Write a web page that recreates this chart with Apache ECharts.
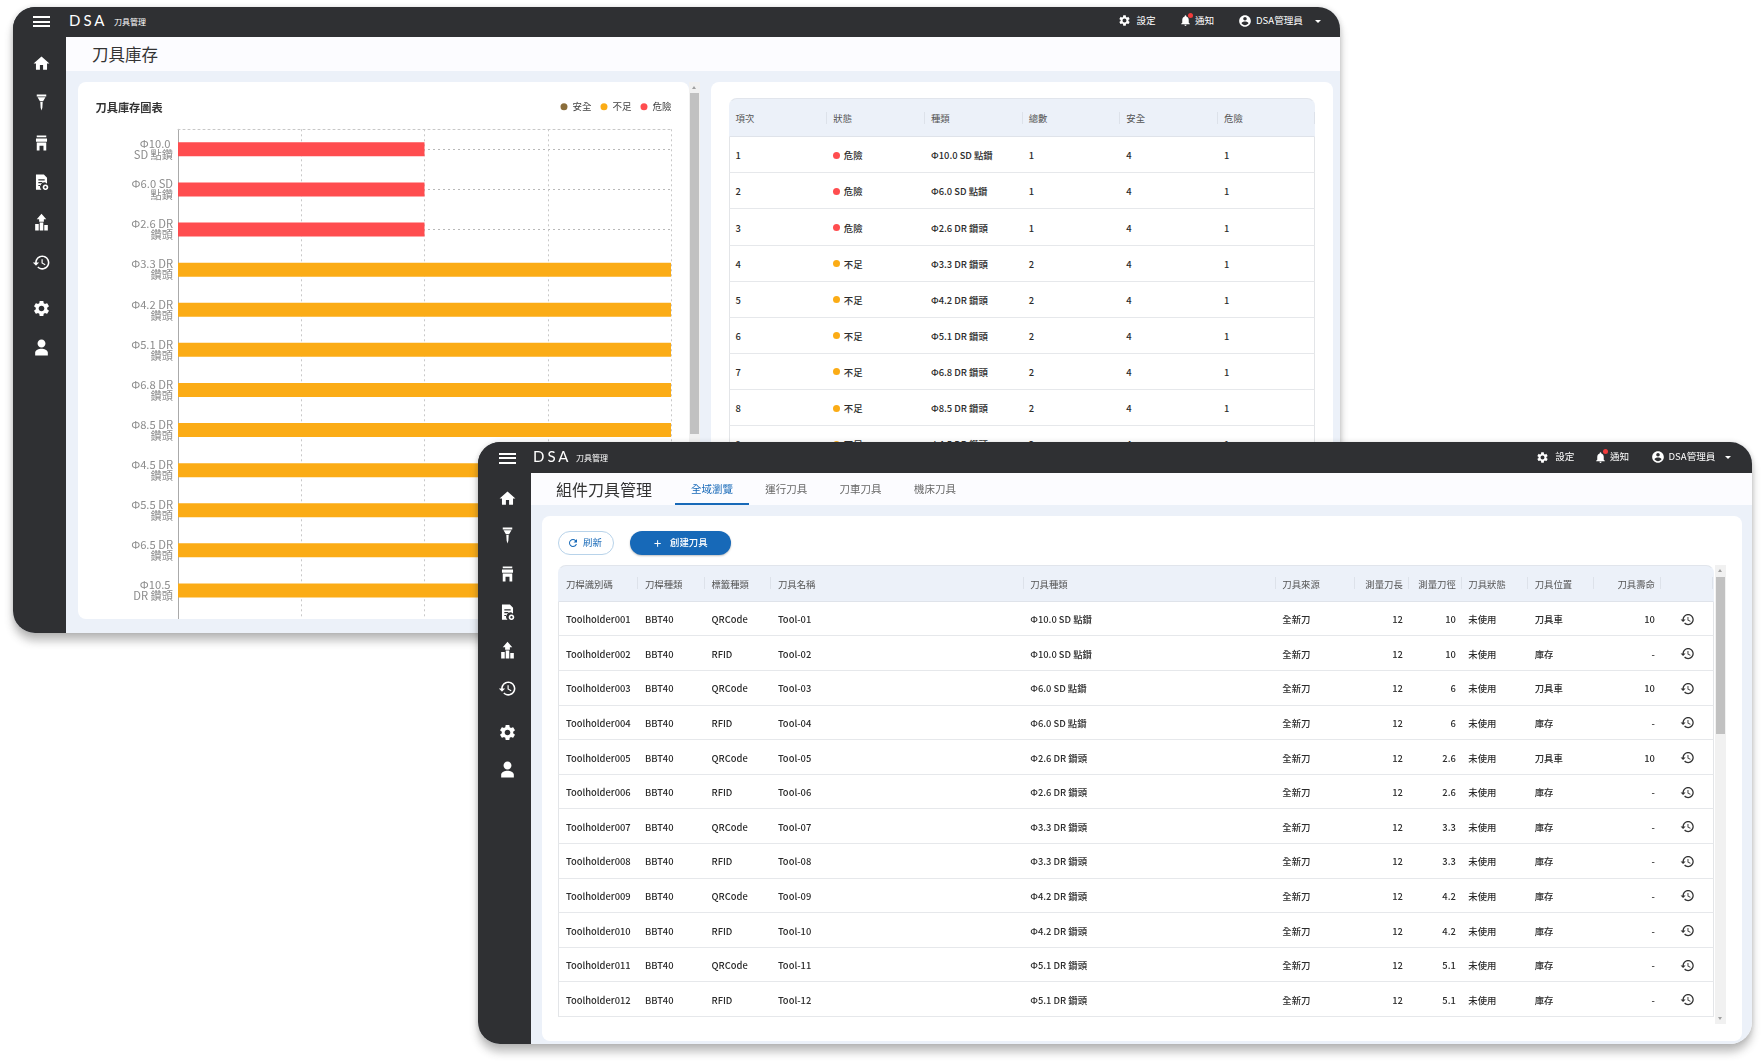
<!DOCTYPE html>
<html>
<head>
<meta charset="utf-8">
<script src="https://cdn.jsdelivr.net/npm/echarts@6/dist/echarts.min.js"></script>
<style>
html,body{margin:0;padding:0;background:#fff;width:1764px;height:1062px;overflow:hidden;font-family:"Noto Sans CJK TC","Noto Sans",sans-serif;color:#333}
div,span{box-sizing:border-box}
.win{position:absolute;background:#ecf1f9;border-radius:22px;overflow:hidden}
.wrap{position:absolute;border-radius:22px;box-shadow:0 8px 9px rgba(60,60,60,.32),0 0 5px rgba(60,60,60,.18)}
#backWrap{left:13px;top:7px;width:1327px;height:626px}
#frontWrap{left:478px;top:442px;width:1274px;height:602px}
.nav{position:absolute;left:0;top:0;right:0;background:#2f3033;color:#fff}
.side{position:absolute;left:0;top:0;bottom:0;width:53px;background:#2f3033}
.head{position:absolute;left:53px;right:0;background:#fcfcff}
.abs{position:absolute;white-space:nowrap;line-height:1}
.ham{position:absolute;border-top:2px solid #fff;border-bottom:2px solid #fff}
.ham:after{content:"";position:absolute;left:0;right:0;top:50%;margin-top:-1px;height:2px;background:#fff}
.ico{position:absolute;fill:#fff}
.card{position:absolute;background:#fff;border-radius:8px;overflow:hidden}
.sb{position:absolute;background:#f1f1f1}
.sb i{position:absolute;left:1px;right:1px;background:#c1c1c1}
.sb b{position:absolute;left:3px;width:0;height:0;border-left:2.5px solid transparent;border-right:2.5px solid transparent}
.tbl{position:absolute;font-size:9.4px;color:#2b2b2b;font-weight:500}
.row{display:flex;align-items:center;border-bottom:1px solid #e6e8eb;border-left:1px solid #e3e5e8;border-right:1px solid #e3e5e8}
.hd{background:#ecf1f9;border:1px solid transparent;border-top-color:#e1e5ec;border-bottom-color:#dfe3ea;border-radius:8px 8px 0 0;color:#555;font-weight:400}
.cell{position:relative;height:100%;display:flex;align-items:center;flex:none;white-space:nowrap;padding-top:1px}
.hd .cell:after{content:"";position:absolute;right:0;top:50%;margin-top:-6px;height:12px;width:1px;background:#dde2ea}
.cell.r{justify-content:flex-end}
.dot{display:inline-block;width:7px;height:7px;border-radius:50%;margin-right:3.5px}
.rowIcon{width:15px;height:15px;fill:#333;margin-left:12.5px}
</style>
</head>
<body>
<div class="wrap" id="backWrap"><div class="win" id="backWin" style="width:100%;height:100%"></div></div>
<div class="wrap" id="frontWrap"><div class="win" id="frontWin" style="width:100%;height:100%"></div></div>
<script>
// chart data
var categories = ['Φ10.0 SD 點鑽','Φ6.0 SD 點鑽','Φ2.6 DR 鑽頭','Φ3.3 DR 鑽頭','Φ4.2 DR 鑽頭','Φ5.1 DR 鑽頭','Φ6.8 DR 鑽頭','Φ8.5 DR 鑽頭','Φ4.5 DR 鑽頭','Φ5.5 DR 鑽頭','Φ6.5 DR 鑽頭','Φ10.5 DR 鑽頭'];
var safeValues = [0,0,0,0,0,0,0,0,0,0,0,0];
var lowValues = [0,0,0,2,2,2,2,2,2,2,2,2];
var dangerValues = [1,1,1,0,0,0,0,0,0,0,0,0];
var seriesColors = ['#8a6d3b','#fbac16','#ff4d4f'];

// stock table, only the rows that show above the front window
var stockHeaders = ['項次','狀態','種類','總數','安全','危險'];
var stockStatus = ['危險','危險','危險','不足','不足','不足','不足','不足','不足'];
var stockTotals = [1,1,1,2,2,2,2,2,2];
var stockSafe = [4,4,4,4,4,4,4,4,4];
var stockDanger = [1,1,1,1,1,1,1,1,1];

// tool table
var toolHeaders = ['刀桿識別碼','刀桿種類','標籤種類','刀具名稱','刀具種類','刀具來源','測量刀長','測量刀徑','刀具狀態','刀具位置','刀具壽命',''];
var toolIds = ['Toolholder001','Toolholder002','Toolholder003','Toolholder004','Toolholder005','Toolholder006','Toolholder007','Toolholder008','Toolholder009','Toolholder010','Toolholder011','Toolholder012'];
var toolLabels = ['QRCode','RFID','QRCode','RFID','QRCode','RFID','QRCode','RFID','QRCode','RFID','QRCode','RFID'];
var toolNames = ['Tool-01','Tool-02','Tool-03','Tool-04','Tool-05','Tool-06','Tool-07','Tool-08','Tool-09','Tool-10','Tool-11','Tool-12'];
var toolKinds = ['Φ10.0 SD 點鑽','Φ10.0 SD 點鑽','Φ6.0 SD 點鑽','Φ6.0 SD 點鑽','Φ2.6 DR 鑽頭','Φ2.6 DR 鑽頭','Φ3.3 DR 鑽頭','Φ3.3 DR 鑽頭','Φ4.2 DR 鑽頭','Φ4.2 DR 鑽頭','Φ5.1 DR 鑽頭','Φ5.1 DR 鑽頭'];
var toolDiameters = [10,10,6,6,2.6,2.6,3.3,3.3,4.2,4.2,5.1,5.1];
var toolPlaces = ['刀具車','庫存','刀具車','庫存','刀具車','庫存','庫存','庫存','庫存','庫存','庫存','庫存'];
var toolLife = ['10','-','10','-','10','-','-','-','-','-','-','-'];
var tabNames = ['全域瀏覽','運行刀具','刀車刀具','機床刀具'];

var icons = {
  home:'M10 20v-6h4v6h5v-8h3L12 3 2 12h3v8z',
  mill:'M6 2h12v2.5H6zM7 5.5h10l-3 5h-4zM10.5 11.5h3l-.4 7-1.1 3.5-1.1-3.5z',
  store:'M6 3h12v2.5H6zM5 7h14v4H5zM6 12h12v10h-3.5v-6h-5v6H6z',
  doc:'M5 2h10l4 4v7.5a5 5 0 0 0-7 7.5H5zM8 8v1.5h8V8zM8 11.5V13h5v-1.5zM8 15v1.5h3V15zM17 14.5a3.5 3.5 0 1 0 .01 0zM17 16.5a1.5 1.5 0 1 1-.01 0z',
  chart:'M12 1l6 7h-3v3H9V8H6zM4 14h4.500v8H4zM9.750 12h4.500v10h-4.500zM15.500 15H20v7h-4.500z',
  history:'M13 3c-4.97 0-9 4.03-9 9H1l3.89 3.89.07.14L9 12H6c0-3.87 3.13-7 7-7s7 3.13 7 7-3.13 7-7 7c-1.93 0-3.68-.79-4.94-2.06l-1.42 1.42C8.27 19.99 10.51 21 13 21c4.97 0 9-4.03 9-9s-4.03-9-9-9zm-1 5v5l4.28 2.54.72-1.21-3.5-2.08V8H12z',
  gear:'M19.14 12.94c.04-.3.06-.61.06-.94 0-.32-.02-.64-.07-.94l2.03-1.58c.18-.14.23-.41.12-.61l-1.92-3.32c-.12-.22-.37-.29-.59-.22l-2.39.96c-.5-.38-1.03-.7-1.62-.94l-.36-2.54c-.04-.24-.24-.41-.48-.41h-3.84c-.24 0-.43.17-.47.41l-.36 2.54c-.59.24-1.13.57-1.62.94l-2.39-.96c-.22-.08-.47 0-.59.22L2.74 8.87c-.12.21-.08.47.12.61l2.03 1.58c-.05.3-.09.63-.09.94s.02.64.07.94l-2.03 1.58c-.18.14-.23.41-.12.61l1.92 3.32c.12.22.37.29.59.22l2.39-.96c.5.38 1.03.7 1.62.94l.36 2.54c.05.24.24.41.48.41h3.84c.24 0 .44-.17.47-.41l.36-2.54c.59-.24 1.13-.56 1.62-.94l2.39.96c.22.08.47 0 .59-.22l1.92-3.32c.12-.22.07-.47-.12-.61l-2.01-1.58zM12 15.6c-1.98 0-3.6-1.62-3.6-3.6s1.62-3.6 3.6-3.6 3.6 1.62 3.6 3.6-1.62 3.6-3.6 3.6z',
  user:'M12 12c2.9 0 5-2.2 5-5s-2.1-5-5-5-5 2.2-5 5 2.1 5 5 5zm0 1.5c-3.3 0-8 1.7-8 4.7V22h16v-3.8c0-3-4.7-4.7-8-4.7z',
  bell:'M12 22c1.1 0 2-.9 2-2h-4c0 1.1.89 2 2 2zm6-6v-5c0-3.07-1.64-5.64-4.5-6.32V4c0-.83-.67-1.5-1.5-1.5s-1.5.67-1.5 1.5v.68C7.63 5.36 6 7.92 6 11v5l-2 2v1h16v-1l-2-2z',
  account:'M12 2C6.48 2 2 6.48 2 12s4.48 10 10 10 10-4.48 10-10S17.52 2 12 2zm0 3c1.66 0 3 1.34 3 3s-1.34 3-3 3-3-1.34-3-3 1.34-3 3-3zm0 14.2c-2.5 0-4.71-1.28-6-3.22.03-1.99 4-3.08 6-3.08 1.99 0 5.97 1.09 6 3.08-1.29 1.94-3.5 3.22-6 3.22z',
  refresh:'M17.65 6.35C16.2 4.9 14.21 4 12 4c-4.42 0-7.99 3.58-7.99 8s3.57 8 7.99 8c3.73 0 6.84-2.55 7.73-6h-2.08c-.82 2.33-3.04 4-5.65 4-3.31 0-6-2.69-6-6s2.69-6 6-6c1.66 0 3.14.69 4.22 1.78L13 11h7V4l-2.35 2.35z'
};
function svg(name,cx,cy,size,color){
  return '<svg class="ico" viewBox="0 0 24 24" style="left:'+(cx-size/2)+'px;top:'+(cy-size/2)+'px;width:'+size+'px;height:'+size+'px'+(color?';fill:'+color:'')+'"><path d="'+icons[name]+'"/></svg>';
}
function txt(s,x,cy,size,color,extra){
  return '<span class="abs" style="left:'+x+'px;top:'+(cy-size/2)+'px;font-size:'+size+'px;color:'+(color||'#333')+';'+(extra||'')+'">'+s+'</span>';
}
function table(x,y,w,headers,widths,aligns,headH,rowH,rows,pad){
  var h='<div class="tbl" style="left:'+x+'px;top:'+y+'px;width:'+w+'px">';
  h+='<div class="row hd" style="height:'+headH+'px">';
  headers.forEach(function(t,i){h+='<div class="cell'+(aligns[i]?' r':'')+'" style="width:'+widths[i]+'px;padding-left:'+pad[0]+'px;padding-right:'+pad[1]+'px">'+t+'</div>'});
  h+='</div>';
  rows.forEach(function(r){
    h+='<div class="row" style="height:'+rowH+'px">';
    r.forEach(function(t,i){h+='<div class="cell'+(aligns[i]?' r':'')+'" style="width:'+widths[i]+'px;padding-left:'+pad[0]+'px;padding-right:'+pad[1]+'px">'+t+'</div>'});
    h+='</div>';
  });
  return h+'</div>';
}
function chrome(o){
  var h='<div class="side"></div><div class="nav" style="height:'+o.navH+'px"></div>';
  h+='<div class="head" style="top:'+o.navH+'px;height:'+o.headH+'px"></div>';
  h+='<div class="ham" style="left:'+o.hamX+'px;top:'+o.hamY+'px;width:17px;height:11px"></div>';
  h+=txt('DSA',o.logoX,o.navY-.5,15,'#fff','font-family:Lato,sans-serif;font-weight:400;letter-spacing:3px');
  h+=txt('刀具管理',o.subX,o.navY+1,8,'#fff');
  o.sideY.forEach(function(y,i){h+=svg(['home','mill','store','doc','chart','history','gear','user'][i],o.sideX,y,19)});
  h+=svg('gear',o.gearX,o.navY,13);
  h+=txt('設定',o.gearX+12.5,o.navY,9.6,'#fff');
  h+=svg('bell',o.bellX,o.navY,13);
  h+='<span class="abs" style="left:'+(o.bellX+3)+'px;top:'+(o.navY-8)+'px;width:5px;height:5px;border-radius:50%;background:#f03b3b"></span>';
  h+=txt('通知',o.bellX+10,o.navY,9.6,'#fff');
  h+=svg('account',o.userX,o.navY,14);
  h+=txt('DSA管理員',o.userX+11,o.navY,9.6,'#fff');
  h+='<span class="abs" style="left:'+o.caretX+'px;top:'+(o.navY-1)+'px;width:0;height:0;border-left:3px solid transparent;border-right:3px solid transparent;border-top:3px solid #fff"></span>';
  return h;
}
function scrollbar(x,y,w,h,ty,th){
  return '<div class="sb" style="left:'+x+'px;top:'+y+'px;width:'+w+'px;height:'+h+'px"><b style="top:4px;border-bottom:3px solid #a0a0a0"></b><i style="top:'+ty+'px;height:'+th+'px"></i><b style="bottom:4px;border-top:3px solid #a0a0a0"></b></div>';
}

// back window
var stockRows = stockStatus.map(function(s,i){
  var c = s==='危險' ? seriesColors[2] : seriesColors[1];
  return [String(i+1),'<span class="dot" style="background:'+c+'"></span>'+s,categories[i],stockTotals[i],stockSafe[i],stockDanger[i]];
});
var back = chrome({navH:30,headH:34,hamX:20,hamY:9,logoX:56,subX:101,navY:13.7,sideX:28,sideY:[56,95,135,175,215,255,301,340],gearX:1111,bellX:1172,userX:1232,caretX:1301.5});
back += txt('刀具庫存',79,47,16.5,'#333');
back += '<div class="card" id="chartCard" style="left:65px;top:75px;width:611px;height:537px"><div id="chart" style="width:611px;height:580px"></div></div>';
back += scrollbar(676,75,11,537,11,341);
back += '<div class="card" style="left:698px;top:75px;width:622px;height:537px"></div>';
back += table(715.6,91.3,586.5,stockHeaders,[97.7,97.7,97.7,97.7,97.7,96.5],[0,0,0,0,0,0],39,36.1,stockRows,[6,0]);
document.getElementById('backWin').innerHTML = back;

// front window
var rowIcon = '<svg class="rowIcon" viewBox="0 0 24 24"><path d="'+icons.history+'"/></svg>';
var toolRows = toolIds.map(function(id,i){
  return [id,'BBT40',toolLabels[i],toolNames[i],toolKinds[i],'全新刀','12',toolDiameters[i],'未使用',toolPlaces[i],toolLife[i],rowIcon];
});
var front = chrome({navH:31,headH:32,hamX:21,hamY:10.5,logoX:55,subX:98,navY:15,sideX:29,sideY:[56,93,131,170,208,246,290,327],gearX:1064.7,bellX:1122,userX:1179.5,caretX:1247});
front += txt('組件刀具管理',78,47,16,'#333');
tabNames.forEach(function(t,i){
  front += txt(t,213+i*74.3,47.5,10.5,i===0?'#1769b8':'#666');
});
front += '<div class="abs" style="left:197px;top:61px;width:74px;height:2px;background:#1769b8"></div>';
front += '<div class="card" style="left:64px;top:74px;width:1200px;height:525px"></div>';
front += '<div class="abs" style="left:80px;top:89px;width:56px;height:24px;border:1px solid #b8d3ea;border-radius:12px;background:#fff"></div>';
front += svg('refresh',94.5,101,12,'#1769b8') + txt('刷新',105,101,9.4,'#1769b8');
front += '<div class="abs" style="left:152px;top:89px;width:101px;height:24px;border-radius:12px;background:#1769b8;box-shadow:0 1px 2px rgba(0,0,0,.25)"></div>';
front += txt('+',176,100,13,'#fff') + txt('創建刀具',192,101,9.4,'#fff','font-weight:500');
var toolWidths = [79,66.6,66.4,252.3,252.2,79.6,53.4,53,66.3,66.3,66.5,52.3];
front += table(80.4,122.9,1156,toolHeaders,toolWidths,[0,0,0,0,0,0,1,1,0,0,1,0],37,34.6,toolRows,[6.5,6]);
front += scrollbar(1236.7,123,11,459,12,156.5);
document.getElementById('frontWin').innerHTML = front;

// bar chart
var chart = echarts.init(document.getElementById('chart'));
chart.setOption({
  animation:false,
  textStyle:{fontFamily:'"Noto Sans CJK TC"'},
  title:{text:'刀具庫存圖表',left:12.5,top:15,textStyle:{fontSize:11.2,fontWeight:'bold',color:'#333'}},
  legend:{
    right:12.5,top:15,icon:'circle',itemWidth:7,itemHeight:7,itemGap:9,
    textStyle:{fontSize:9.5,color:'#444'},
    data:['安全','不足','危險']
  },
  grid:{left:100,right:18,top:47.3,height:521.3},
  xAxis:{
    type:'value',position:'top',min:0,max:2,interval:0.5,
    axisLabel:{show:false},axisTick:{show:false},
    axisLine:{show:true,lineStyle:{color:'#c8c8c8',type:[2,3]}},
    splitLine:{show:true,lineStyle:{color:'#c8c8c8',type:[2,3]}}
  },
  yAxis:{
    type:'category',inverse:true,
    data:categories.concat(['']),
    axisLine:{lineStyle:{color:'#aaa',width:1}},
    axisTick:{alignWithLabel:true,length:3,lineStyle:{color:'#aaa'}},
    axisLabel:{color:'#8c8c8c',fontSize:11.2,lineHeight:11,margin:5,width:46,overflow:'break',interval:0,align:'right'},
    splitLine:{show:true,interval:0,alignWithLabel:true,lineStyle:{color:'#b8b8b8',type:[2,3]}}
  },
  series:[
    {name:'安全',type:'bar',stack:'stock',barWidth:14,data:safeValues,itemStyle:{color:seriesColors[0]}},
    {name:'不足',type:'bar',stack:'stock',barWidth:14,data:lowValues,itemStyle:{color:seriesColors[1]}},
    {name:'危險',type:'bar',stack:'stock',barWidth:14,data:dangerValues,itemStyle:{color:seriesColors[2]}}
  ]
});
</script>
</body>
</html>
